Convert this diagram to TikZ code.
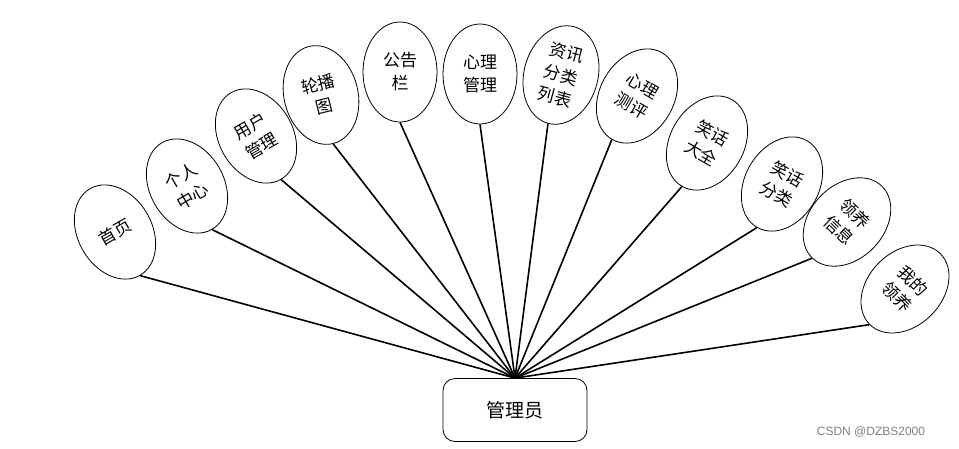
\documentclass[tikz,border=0pt]{standalone}
\usepackage{fontspec}
\newfontfamily\cjk{Noto Sans CJK SC}
\setsansfont{Liberation Sans}
\usepackage{tikz}
\usetikzlibrary{shapes}

\begin{document}
\begin{tikzpicture}[
  x=1pt, y=-1pt,
  every node/.style={align=center},
  topic/.style={draw, ellipse, line width=0.8pt, minimum width=74pt,
    minimum height=100pt, inner sep=0pt,
    font=\cjk\fontsize{17}{23}\selectfont},
  admin/.style={draw, rounded corners=12pt, line width=0.8pt,
    minimum width=144pt, minimum height=63pt,
    font=\cjk\fontsize{19}{22}\selectfont},
  link/.style={draw, line width=1.6pt}
]
\useasboundingbox (0,0) rectangle (959,448);

\node[admin] (admin) at (515,410) {管理员};

\node[topic, rotate=30]  (home)    at (115,232) {首页};
\node[topic, rotate=30]  (center)  at (187,186) {个人\\中心};
\node[topic, rotate=30]  (user)    at (256,136) {用户\\管理};
\node[topic, rotate=14]  (banner)  at (321,95)  {轮播\\图};
\node[topic]             (notice)  at (400,72)  {公告\\栏};
\node[topic]             (psych)   at (480,74)  {心理\\管理};
\node[topic, rotate=-15] (newscat) at (561,75)  {资讯\\分类\\列表};
\node[topic, rotate=-30] (test)    at (637,96)  {心理\\测评};
\node[topic, rotate=-30] (jokes)   at (707,143) {笑话\\大全};
\node[topic, rotate=-30] (jokecat) at (782,184) {笑话\\分类};
\node[topic, rotate=-44] (adopt)   at (847,222) {领养\\信息};
\node[topic, rotate=-45] (myadopt) at (905,289) {我的\\领养};

\draw[link] (home.south)    -- (admin.north);
\draw[link] (center.south)  -- (admin.north);
\draw[link] (user.south)    -- (admin.north);
\draw[link] (banner.south)  -- (admin.north);
\draw[link] (notice.south)  -- (admin.north);
\draw[link] (psych.south)   -- (admin.north);
\draw[link] (newscat.south) -- (admin.north);
\draw[link] (test.south)    -- (admin.north);
\draw[link] (jokes.south)   -- (admin.north);
\draw[link] (jokecat.south) -- (admin.north);
\draw[link] (adopt.south)   -- (admin.north);
\draw[link] (myadopt.south) -- (admin.north);

\node[text=gray, font=\sffamily\fontsize{12}{14}\selectfont] (wm) at (871,432) {CSDN @DZBS2000};
\end{tikzpicture}
\end{document}
